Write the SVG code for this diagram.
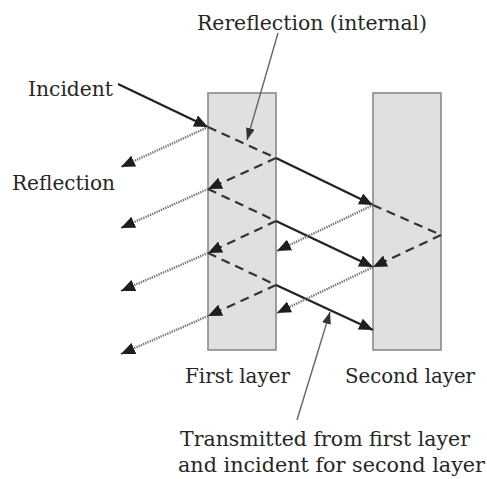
<svg xmlns="http://www.w3.org/2000/svg" width="487" height="479" viewBox="0 0 487 479">
<style>
.layer{fill:#e0e0e0;stroke:#8a8a8a;stroke-width:1.6}
.lbl{font-family:"DejaVu Serif","Liberation Serif",serif;font-size:20px;fill:#262626}
.solid{stroke:#222;stroke-width:2.3;fill:none}
.dash{stroke:#333;stroke-width:2.2;stroke-dasharray:9,6;fill:none}
.dot{stroke:#6f6f6f;stroke-width:2.4;stroke-dasharray:1.3,1.1;fill:none}
.ptr{stroke:#666;stroke-width:1.4;fill:none}
</style>
<defs>
<marker id="ah" viewBox="0 0 14 12" refX="14" refY="6" markerWidth="14" markerHeight="12" markerUnits="userSpaceOnUse" orient="auto">
<path d="M0,0 L14,6 L0,12 z" fill="#1e1e1e"/>
</marker>
<marker id="ahs" viewBox="0 0 12 9" refX="12" refY="4.5" markerWidth="12" markerHeight="9" markerUnits="userSpaceOnUse" orient="auto">
<path d="M0,0 L12,4.5 L0,9 z" fill="#333"/>
</marker>
</defs>
<rect width="487" height="479" fill="#fff"/>
<g id="first-layer">
<rect class="layer" x="208" y="93" width="68" height="257"/>
<text class="lbl" x="185" y="383" textLength="105" lengthAdjust="spacingAndGlyphs">First layer</text>
</g>
<g id="second-layer">
<rect class="layer" x="373" y="93" width="68" height="257"/>
<text class="lbl" x="345" y="383" textLength="130" lengthAdjust="spacingAndGlyphs">Second layer</text>
</g>
<g id="labels">
<text class="lbl" x="197" y="30" textLength="230" lengthAdjust="spacingAndGlyphs">Rereflection (internal)</text>
<text class="lbl" x="28" y="96" textLength="85" lengthAdjust="spacingAndGlyphs">Incident</text>
<text class="lbl" x="12" y="190" textLength="103" lengthAdjust="spacingAndGlyphs">Reflection</text>
<text class="lbl" x="180" y="446" textLength="290" lengthAdjust="spacingAndGlyphs">Transmitted from first layer</text>
<text class="lbl" x="178" y="472" textLength="307" lengthAdjust="spacingAndGlyphs">and incident for second layer</text>
</g>
<g id="connectors">
<line class="solid" x1="118" y1="84" x2="208" y2="127" marker-end="url(#ah)"/>
<line class="solid" x1="276" y1="158" x2="373" y2="205" marker-end="url(#ah)"/>
<line class="solid" x1="276" y1="221" x2="373" y2="267" marker-end="url(#ah)"/>
<line class="solid" x1="276" y1="285" x2="373" y2="330" marker-end="url(#ah)"/>
<line class="dash" x1="208" y1="127" x2="276" y2="158"/>
<line class="dash" x1="276" y1="158" x2="208" y2="189" marker-end="url(#ah)"/>
<line class="dash" x1="208" y1="189" x2="276" y2="221"/>
<line class="dash" x1="276" y1="221" x2="208" y2="253" marker-end="url(#ah)"/>
<line class="dash" x1="208" y1="253" x2="276" y2="285"/>
<line class="dash" x1="276" y1="285" x2="208" y2="316" marker-end="url(#ah)"/>
<line class="dash" x1="373" y1="205" x2="441" y2="235"/>
<line class="dash" x1="441" y1="235" x2="373" y2="267" marker-end="url(#ah)"/>
<line class="dot" x1="208" y1="127" x2="121" y2="167" marker-end="url(#ah)"/>
<line class="dot" x1="208" y1="189" x2="121" y2="228" marker-end="url(#ah)"/>
<line class="dot" x1="208" y1="253" x2="121" y2="291" marker-end="url(#ah)"/>
<line class="dot" x1="208" y1="316" x2="121" y2="354" marker-end="url(#ah)"/>
<line class="dot" x1="373" y1="205" x2="277" y2="251" marker-end="url(#ah)"/>
<line class="dot" x1="373" y1="267" x2="277" y2="313" marker-end="url(#ah)"/>
<line class="ptr" x1="278" y1="33" x2="247" y2="140" marker-end="url(#ahs)"/>
<line class="ptr" x1="297" y1="420" x2="330" y2="312" marker-end="url(#ahs)"/>
</g>
</svg>
